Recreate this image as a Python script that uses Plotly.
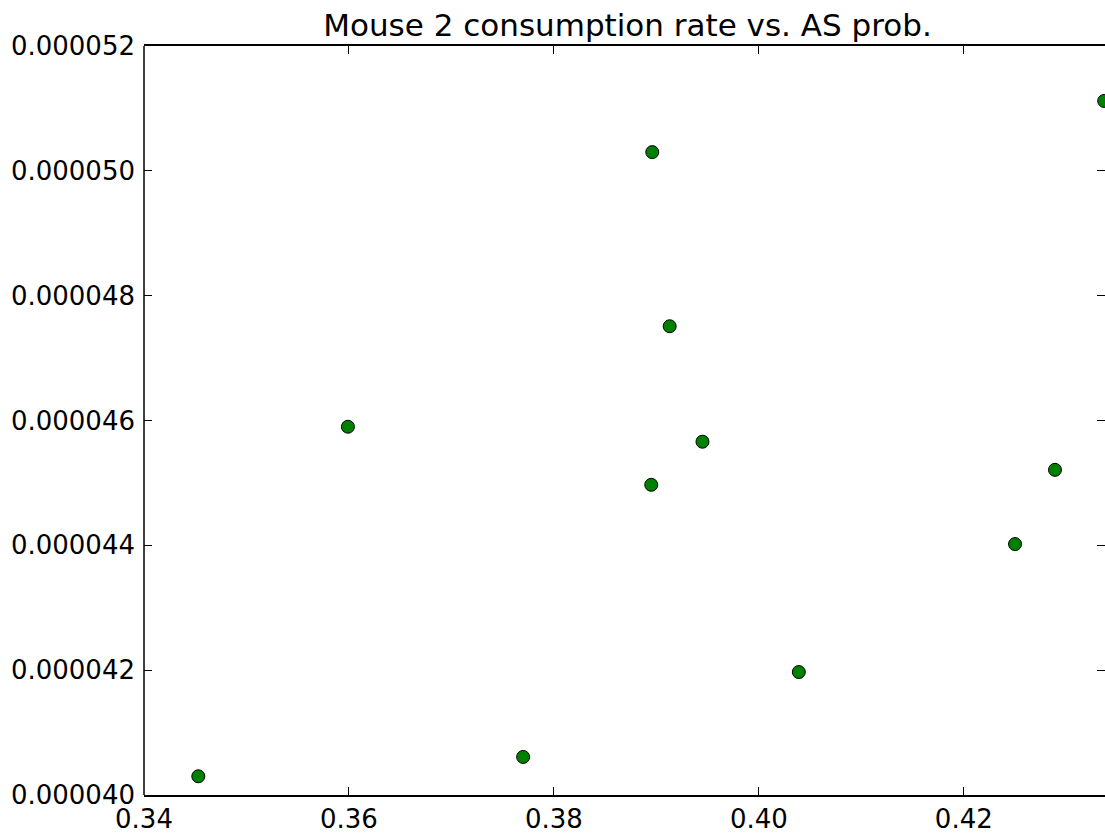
import plotly.graph_objects as go

# Data
as_prob = [0.3453, 0.3599, 0.3770, 0.3896, 0.3913, 0.3895, 0.3945, 0.4039, 0.4250, 0.4289, 0.4337]
consumption_rate = [40.30e-6, 45.90e-6, 40.61e-6, 50.30e-6, 47.51e-6, 44.97e-6, 45.66e-6, 41.97e-6, 44.02e-6, 45.21e-6, 51.12e-6]

x_tickvals = [0.34, 0.36, 0.38, 0.40, 0.42]
x_ticktext = ["0.34", "0.36", "0.38", "0.40", "0.42"]
y_tickvals = [40e-6, 42e-6, 44e-6, 46e-6, 48e-6, 50e-6, 52e-6]
y_ticktext = ["0.000040", "0.000042", "0.000044", "0.000046", "0.000048", "0.000050", "0.000052"]

title_text = "Mouse 2 consumption rate vs. AS prob."

fig = go.Figure()
fig.add_trace(go.Scatter(
    x=as_prob, y=consumption_rate, mode="markers",
    marker=dict(color="#008000", size=13, line=dict(color="black", width=1)),
    cliponaxis=True, showlegend=False,
))

font_family = "DejaVu Sans"
fig.update_layout(
    width=1105, height=833,
    margin=dict(l=144, r=0, t=46, b=38),
    paper_bgcolor="white", plot_bgcolor="white",
    font=dict(family=font_family, color="black", size=26),
    title=dict(text=title_text, x=0.5679, xanchor="center", y=0.97, yanchor="middle",
               font=dict(size=31, family=font_family, color="black")),
    shapes=[dict(type="line", xref="paper", yref="paper", x0=0, x1=0, y0=0, y1=1,
                 line=dict(color="black", width=1.5))],
)
fig.update_xaxes(
    range=[0.34, 0.43378], tickvals=x_tickvals, ticktext=x_ticktext,
    showgrid=False, zeroline=False, showline=True, linecolor="black", linewidth=1.5,
    mirror="ticks", ticks="inside", ticklen=8, tickwidth=1, tickcolor="black",
    tickfont=dict(size=26, family=font_family), ticklabelstandoff=0,
)
fig.update_yaxes(
    range=[40e-6, 52e-6], tickvals=y_tickvals, ticktext=y_ticktext,
    showgrid=False, zeroline=False, showline=False,
    mirror="ticks", ticks="inside", ticklen=8, tickwidth=1, tickcolor="black",
    tickfont=dict(size=26, family=font_family), ticklabelstandoff=8,
)

fig.write_html("out.html")
